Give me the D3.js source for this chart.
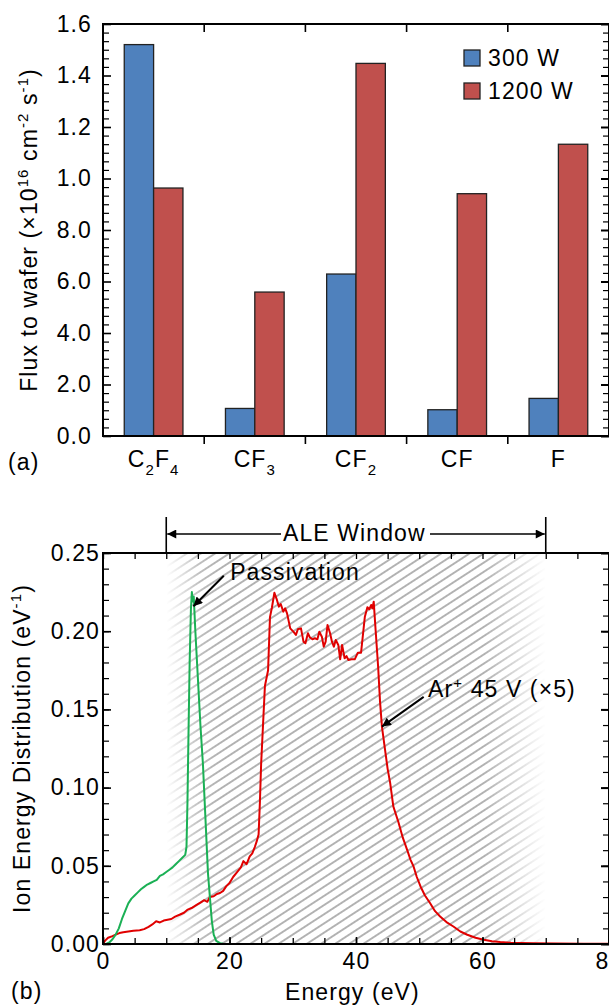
<!DOCTYPE html>
<html>
<head>
<meta charset="utf-8">
<script src="https://cdn.jsdelivr.net/npm/d3@7"></script>
<style>
  html, body { margin: 0; padding: 0; background: #fff; }
  svg { display: block; }
  text { font-family: "Liberation Sans", Arial, Helvetica, sans-serif; font-size: 23px; letter-spacing: 1.1px; fill: #000; }
</style>
</head>
<body>
<svg id="fig" width="609" height="1006"></svg>
<script>
// ---------- (a) species flux to the wafer ----------
const categories = ["C_2F_4", "CF_3", "CF_2", "CF", "F"];
const seriesNames = ["300 W", "1200 W"];
const seriesColors = ["#4f81bd", "#c0504d"];
const flux300 = [15.2, 1.07, 6.29, 1.02, 1.46];
const flux1200 = [9.63, 5.59, 14.47, 9.41, 11.33];
const fluxTickValues = [0, 2, 4, 6, 8, 10, 12, 14, 16];
const fluxTickLabels = ["0.0", "2.0", "4.0", "6.0", "8.0", "1.0", "1.2", "1.4", "1.6"];

// ---------- (b) ion energy distributions ----------
const passivationE = [0, 0.5, 1.0, 1.5, 2.0, 2.5, 3.0, 3.5, 4.0, 4.5, 5.0, 5.5, 6.0, 6.5, 7.0, 7.5, 8.0, 8.5, 9.0, 9.5, 10.0, 10.5, 11.0, 11.5, 12.0, 12.5, 13.0, 13.2, 13.35, 13.5, 13.7, 13.9, 14.05, 14.2, 14.35, 14.6, 15.0, 15.4, 15.8, 16.2, 16.6, 16.9, 17.2, 17.5, 17.9, 18.5, 19.0, 20.0, 22.0, 25.0];
const passivationV = [0, 0, 0.001, 0.003, 0.006, 0.010, 0.016, 0.021, 0.026, 0.029, 0.031, 0.033, 0.035, 0.0365, 0.038, 0.039, 0.040, 0.041, 0.0435, 0.0445, 0.046, 0.0475, 0.049, 0.051, 0.053, 0.055, 0.057, 0.062, 0.09, 0.13, 0.18, 0.214, 0.225, 0.219, 0.222, 0.20, 0.17, 0.14, 0.115, 0.08, 0.045, 0.030, 0.015, 0.006, 0.002, 0.0005, 0.0002, 0, 0, 0];

const argonE = [0, 0.3, 0.8, 1.5, 2.0, 2.6, 3.2, 4.0, 4.8, 5.8, 6.5, 7.2, 7.8, 8.4, 9.0, 9.6, 10.2, 10.8, 11.4, 12.1, 12.8, 13.4, 14.0, 14.8, 15.4, 16.0, 16.5, 16.9, 17.5, 18.0, 18.5, 19.0, 19.5, 20.0, 20.6, 21.2, 21.8, 22.2, 22.7, 23.2, 23.6, 24.0, 24.3, 24.6, 24.8, 25.0, 25.3, 25.6, 26.1, 26.4, 26.7, 27.1, 27.5, 27.8, 28.1, 28.5, 28.8, 29.1, 29.6, 30.1, 30.5, 30.8, 31.3, 31.7, 32.0, 32.4, 32.7, 33.1, 33.5, 33.9, 34.2, 34.6, 34.9, 35.2, 35.5, 35.9, 36.2, 36.5, 36.8, 37.2, 37.5, 37.8, 38.2, 38.5, 38.8, 39.3, 39.8, 40.3, 40.8, 41.4, 41.8, 42.1, 42.4, 42.6, 42.8, 43.1, 43.5, 43.8, 44.1, 44.6, 45.0, 45.4, 45.9, 46.3, 46.7, 47.4, 48.1, 48.6, 49.1, 49.6, 50.2, 50.9, 51.7, 52.5, 53.3, 54.3, 55.4, 56.5, 57.6, 58.9, 60.2, 61.5, 62.8, 64.5, 66.0, 68.1, 72.0, 76.0, 80.0];
const argonV = [0, 0.002, 0.004, 0.005, 0.006, 0.007, 0.0075, 0.008, 0.0085, 0.0088, 0.0095, 0.011, 0.0125, 0.0145, 0.0138, 0.015, 0.0155, 0.016, 0.0175, 0.0187, 0.020, 0.022, 0.023, 0.025, 0.0265, 0.028, 0.027, 0.030, 0.0305, 0.032, 0.0326, 0.034, 0.037, 0.039, 0.043, 0.046, 0.049, 0.053, 0.051, 0.056, 0.058, 0.062, 0.0656, 0.070, 0.09, 0.115, 0.14, 0.165, 0.175, 0.209, 0.215, 0.2246, 0.220, 0.2157, 0.2174, 0.2125, 0.2146, 0.2114, 0.2018, 0.1997, 0.1976, 0.2012, 0.2018, 0.1933, 0.1923, 0.1987, 0.1961, 0.1948, 0.1955, 0.1948, 0.1997, 0.1965, 0.1901, 0.1933, 0.204, 0.1987, 0.1933, 0.1901, 0.1944, 0.1912, 0.1820, 0.1912, 0.1827, 0.1841, 0.1816, 0.1820, 0.1820, 0.1863, 0.1863, 0.2093, 0.2153, 0.214, 0.2168, 0.2146, 0.2189, 0.2008, 0.1773, 0.155, 0.139, 0.124, 0.112, 0.103, 0.088, 0.083, 0.078, 0.068, 0.060, 0.054, 0.0496, 0.043, 0.0368, 0.031, 0.0262, 0.021, 0.0176, 0.014, 0.0112, 0.008, 0.0059, 0.004, 0.0027, 0.0018, 0.0013, 0.0008, 0.0006, 0.0004, 0.0003, 0.0002, 0.0002];

const energyTickLabels = [0, 20, 40, 60, 80];
const iedTickLabels = [0, 0.05, 0.10, 0.15, 0.20, 0.25];
const aleWindow = [10, 70];

const svg = d3.select("#fig");
const defs = svg.append("defs");

// arrow head used by the annotations
defs.append("marker")
  .attr("id", "head")
  .attr("viewBox", "0 0 10 10")
  .attr("refX", 10).attr("refY", 5)
  .attr("markerUnits", "userSpaceOnUse")
  .attr("markerWidth", 15).attr("markerHeight", 9)
  .attr("orient", "auto")
  .append("path").attr("d", "M0,0 L10,5 L0,10 Z").attr("fill", "#000");

// splits "C_2F_4" into normal / subscript runs
function addFormula(sel, label) {
  const parts = [];
  for (let i = 0; i < label.length; i++) {
    if (label[i] === "_") { parts.push({ t: label[i + 1], sub: true }); i++; }
    else parts.push({ t: label[i], sub: false });
  }
  let wasSub = false;
  parts.forEach(p => {
    const ts = sel.append("tspan").text(p.t);
    if (p.sub) { ts.style("font-size", "15px"); if (!wasSub) ts.attr("dy", 8); }
    else if (wasSub) ts.attr("dy", -8);
    wasSub = p.sub;
  });
}

function styleAxis(g, width) {
  g.select(".domain").remove();
  g.selectAll(".tick line").attr("stroke", "#000").attr("stroke-width", width);
  g.selectAll(".tick text").style("font-size", "23px");
}

// ================= panel (a) =================
const aLeft = 103, aRight = 609, aTop = 24, aBottom = 436;
const yA = d3.scaleLinear().domain([0, 16]).range([aBottom, aTop]);
const xCat = d3.scaleBand().domain(categories).range([aLeft, aRight]);
const xSer = d3.scaleBand().domain(seriesNames)
  .range([xCat.bandwidth() * 0.21, xCat.bandwidth() * 0.79]);

const seriesValues = [flux300, flux1200];
const barG = svg.append("g");
categories.forEach((c, i) => {
  seriesNames.forEach((s, j) => {
    const v = seriesValues[j][i];
    barG.append("rect")
      .attr("x", xCat(c) + xSer(s))
      .attr("y", yA(v))
      .attr("width", xSer.bandwidth())
      .attr("height", yA(0) - yA(v))
      .attr("fill", seriesColors[j])
      .attr("stroke", "#222")
      .attr("stroke-width", 1.3);
  });
});

const minorA = d3.range(0, 49).filter(k => k % 6 !== 0).map(k => k / 3);
// left axis
svg.append("g").attr("transform", `translate(${aLeft},0)`)
  .call(d3.axisLeft(yA).tickValues(minorA).tickFormat("").tickSizeInner(-6).tickSizeOuter(0))
  .call(g => styleAxis(g, 1.2));
svg.append("g").attr("transform", `translate(${aLeft},0)`)
  .call(d3.axisLeft(yA).tickValues(fluxTickValues).tickFormat((d, i) => fluxTickLabels[i])
    .tickSizeInner(-8).tickSizeOuter(0).tickPadding(11))
  .call(g => styleAxis(g, 1.6));
// right axis
svg.append("g").attr("transform", `translate(${aRight},0)`)
  .call(d3.axisRight(yA).tickValues(minorA).tickFormat("").tickSizeInner(-6).tickSizeOuter(0))
  .call(g => styleAxis(g, 1.2));
svg.append("g").attr("transform", `translate(${aRight},0)`)
  .call(d3.axisRight(yA).tickValues(fluxTickValues).tickFormat("").tickSizeInner(-8).tickSizeOuter(0))
  .call(g => styleAxis(g, 2));

// category boundaries: ticks below the bottom axis and inside the top axis
const bounds = categories.map(c => xCat(c)).concat([aRight]).slice(1, -1);
bounds.forEach(bx => {
  svg.append("line").attr("x1", bx).attr("x2", bx).attr("y1", aBottom).attr("y2", aBottom + 8)
    .attr("stroke", "#000").attr("stroke-width", 1.6);
  svg.append("line").attr("x1", bx).attr("x2", bx).attr("y1", aTop).attr("y2", aTop + 8)
    .attr("stroke", "#000").attr("stroke-width", 1.6);
});
svg.append("rect").attr("x", aLeft).attr("y", aTop)
  .attr("width", aRight - aLeft).attr("height", aBottom - aTop)
  .attr("fill", "none").attr("stroke", "#000").attr("stroke-width", 2);

categories.forEach(c => {
  const t = svg.append("text")
    .attr("x", xCat(c) + xCat.bandwidth() / 2)
    .attr("y", 467)
    .attr("text-anchor", "middle");
  addFormula(t, c);
});

// legend
seriesNames.forEach((s, j) => {
  svg.append("rect").attr("x", 464).attr("y", 50 + j * 33).attr("width", 16).attr("height", 16)
    .attr("fill", seriesColors[j]).attr("stroke", "#222").attr("stroke-width", 1.3);
  svg.append("text").attr("x", 488).attr("y", 65.5 + j * 33).text(s);
});

// y title
const tA = svg.append("text")
  .attr("transform", `translate(37,${(aTop + aBottom) / 2}) rotate(-90)`)
  .attr("text-anchor", "middle");
tA.append("tspan").text("Flux to wafer (\u00d710");
tA.append("tspan").attr("dy", -9).style("font-size", "15px").text("16");
tA.append("tspan").attr("dy", 9).text(" cm");
tA.append("tspan").attr("dy", -9).style("font-size", "15px").text("-2");
tA.append("tspan").attr("dy", 9).text(" s");
tA.append("tspan").attr("dy", -9).style("font-size", "15px").text("-1");
tA.append("tspan").attr("dy", 9).text(")");

svg.append("text").attr("x", 8).attr("y", 470).text("(a)");

// ================= panel (b) =================
const bLeft = 103, bRight = 609, bTop = 553, bBottom = 944;
const xE = d3.scaleLinear().domain([0, 80]).range([bLeft, bRight]);
const yE = d3.scaleLinear().domain([0, 0.25]).range([bBottom, bTop]);

defs.append("clipPath").attr("id", "clipB")
  .append("rect").attr("x", bLeft).attr("y", bTop).attr("width", bRight - bLeft).attr("height", bBottom - bTop);

// hatched ALE window, fading at both ends
const hatch = defs.append("pattern").attr("id", "hatch")
  .attr("patternUnits", "userSpaceOnUse")
  .attr("width", 20).attr("height", 7.7)
  .attr("patternTransform", "rotate(-33)");
hatch.append("line").attr("x1", 0).attr("x2", 20).attr("y1", 3.85).attr("y2", 3.85)
  .attr("stroke", "#6a6a6a").attr("stroke-width", 1);

const fade = defs.append("linearGradient").attr("id", "fadeGrad")
  .attr("gradientUnits", "userSpaceOnUse")
  .attr("x1", xE(aleWindow[0])).attr("x2", xE(aleWindow[1])).attr("y1", 0).attr("y2", 0);
[[0, 0], [0.09, 0.85], [0.14, 1], [0.84, 1], [1, 0]].forEach(([o, a]) => {
  fade.append("stop").attr("offset", o).attr("stop-color", "#fff").attr("stop-opacity", a);
});
defs.append("mask").attr("id", "fadeMask")
  .append("rect").attr("x", xE(aleWindow[0])).attr("y", bTop)
  .attr("width", xE(aleWindow[1]) - xE(aleWindow[0])).attr("height", bBottom - bTop)
  .attr("fill", "url(#fadeGrad)");

svg.append("rect")
  .attr("x", xE(aleWindow[0])).attr("y", bTop)
  .attr("width", xE(aleWindow[1]) - xE(aleWindow[0])).attr("height", bBottom - bTop)
  .attr("fill", "url(#hatch)")
  .attr("mask", "url(#fadeMask)")
  .attr("clip-path", "url(#clipB)");

// curves
const line = d3.line().x(d => xE(d[0])).y(d => yE(d[1]));
const curvesG = svg.append("g").attr("clip-path", "url(#clipB)");
curvesG.append("path")
  .datum(argonE.map((e, i) => [e, argonV[i]]))
  .attr("d", line).attr("fill", "none").attr("stroke", "#e00000")
  .attr("stroke-width", 2).attr("stroke-linejoin", "round");
curvesG.append("path")
  .datum(passivationE.map((e, i) => [e, passivationV[i]]))
  .attr("d", line).attr("fill", "none").attr("stroke", "#1bb055")
  .attr("stroke-width", 2).attr("stroke-linejoin", "round");

// axes of (b)
const minorE = d3.range(0, 81, 5);
const minorY = d3.range(0, 26).map(k => k / 100);
svg.append("g").attr("transform", `translate(0,${bBottom})`)
  .call(d3.axisBottom(xE).tickValues(minorE).tickFormat("").tickSizeInner(-6).tickSizeOuter(0))
  .call(g => styleAxis(g, 1.3));
svg.append("g").attr("transform", `translate(0,${bBottom})`)
  .call(d3.axisBottom(xE).tickValues(energyTickLabels).tickFormat(d3.format("d"))
    .tickSizeInner(-7).tickSizeOuter(0).tickPadding(9))
  .call(g => styleAxis(g, 1.6));
svg.append("g").attr("transform", `translate(0,${bTop})`)
  .call(d3.axisTop(xE).tickValues(minorE).tickFormat("").tickSizeInner(-6).tickSizeOuter(0))
  .call(g => styleAxis(g, 1.3));
svg.append("g").attr("transform", `translate(${bLeft},0)`)
  .call(d3.axisLeft(yE).tickValues(minorY).tickFormat("").tickSizeInner(-6).tickSizeOuter(0))
  .call(g => styleAxis(g, 1.2));
svg.append("g").attr("transform", `translate(${bLeft},0)`)
  .call(d3.axisLeft(yE).tickValues(iedTickLabels).tickFormat(d3.format(".2f"))
    .tickSizeInner(-8).tickSizeOuter(0).tickPadding(3))
  .call(g => styleAxis(g, 1.6));
svg.append("g").attr("transform", `translate(${bRight},0)`)
  .call(d3.axisRight(yE).tickValues(minorY).tickFormat("").tickSizeInner(-6).tickSizeOuter(0))
  .call(g => styleAxis(g, 1.2));
svg.append("g").attr("transform", `translate(${bRight},0)`)
  .call(d3.axisRight(yE).tickValues(iedTickLabels).tickFormat("").tickSizeInner(-8).tickSizeOuter(0))
  .call(g => styleAxis(g, 2));
svg.append("rect").attr("x", bLeft).attr("y", bTop)
  .attr("width", bRight - bLeft).attr("height", bBottom - bTop)
  .attr("fill", "none").attr("stroke", "#000").attr("stroke-width", 2);

// ALE window bracket
const aleY = 534;
aleWindow.forEach(e => {
  svg.append("line").attr("x1", xE(e)).attr("x2", xE(e)).attr("y1", 517).attr("y2", bTop)
    .attr("stroke", "#000").attr("stroke-width", 1.6);
});
svg.append("line").attr("x1", 281).attr("x2", xE(aleWindow[0]) + 1).attr("y1", aleY).attr("y2", aleY)
  .attr("stroke", "#000").attr("stroke-width", 1.5).attr("marker-end", "url(#head)");
svg.append("line").attr("x1", 430).attr("x2", xE(aleWindow[1]) - 1).attr("y1", aleY).attr("y2", aleY)
  .attr("stroke", "#000").attr("stroke-width", 1.5).attr("marker-end", "url(#head)");
svg.append("text").attr("x", 283).attr("y", 541).text("ALE Window");

// curve annotations
svg.append("line")
  .attr("x1", xE(19.1)).attr("y1", yE(0.2355))
  .attr("x2", xE(14.3)).attr("y2", yE(0.216))
  .attr("stroke", "#000").attr("stroke-width", 2).attr("marker-end", "url(#head)");
svg.append("text").attr("x", xE(20.1)).attr("y", yE(0.2325)).text("Passivation");

svg.append("line")
  .attr("x1", xE(50.7)).attr("y1", yE(0.158))
  .attr("x2", xE(44.1)).attr("y2", yE(0.139))
  .attr("stroke", "#000").attr("stroke-width", 2).attr("marker-end", "url(#head)");
const tAr = svg.append("text").attr("x", xE(51.4)).attr("y", yE(0.1577));
tAr.append("tspan").text("Ar");
tAr.append("tspan").attr("dy", -9).style("font-size", "15px").text("+");
tAr.append("tspan").attr("dy", 9).text(" 45 V (\u00d75)");

// titles of (b)
svg.append("text").attr("x", 285).attr("y", 1000).text("Energy (eV)");
const tB = svg.append("text")
  .attr("transform", `translate(30,${(bTop + bBottom) / 2}) rotate(-90)`)
  .attr("text-anchor", "middle");
tB.append("tspan").text("Ion Energy Distribution (eV");
tB.append("tspan").attr("dy", -9).style("font-size", "15px").text("-1");
tB.append("tspan").attr("dy", 9).text(")");

svg.append("text").attr("x", 11).attr("y", 999).text("(b)");
</script>
</body>
</html>
